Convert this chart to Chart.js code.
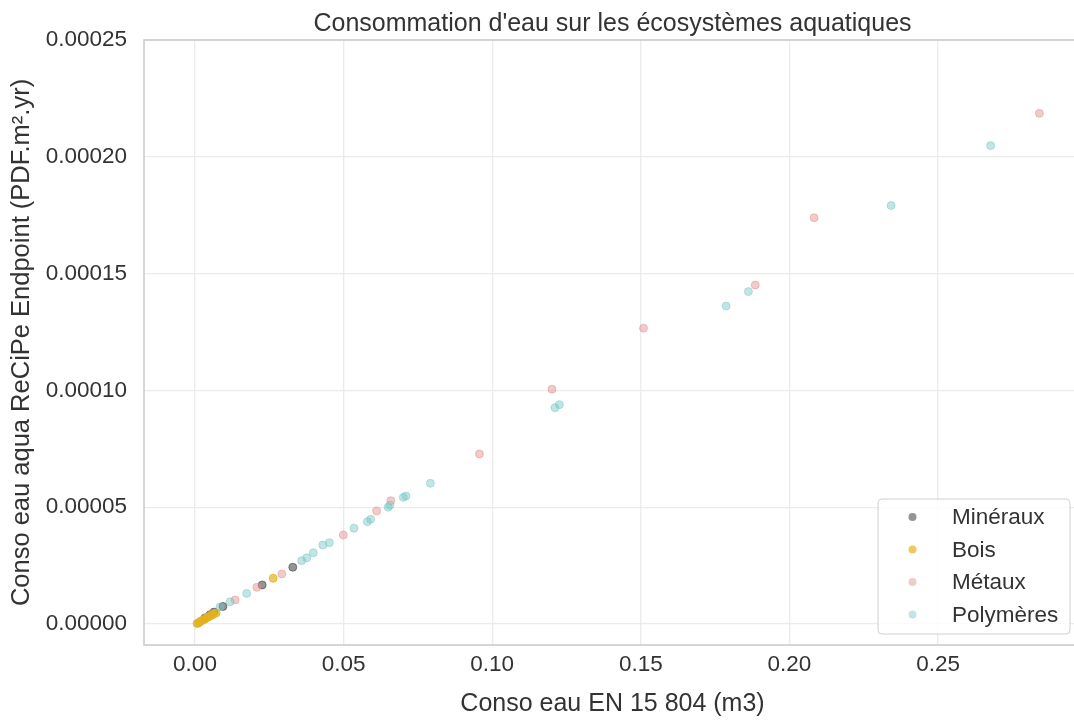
<!DOCTYPE html>
<html lang="fr">
<head>
<meta charset="utf-8">
<title>Consommation d'eau sur les écosystèmes aquatiques</title>
<script src="https://cdn.jsdelivr.net/npm/chart.js@4.4.1/dist/chart.umd.min.js"></script>
<style>
  html, body { margin: 0; padding: 0; background: #ffffff; overflow: hidden; }
  #idDiv_wrap { position: relative; width: 1086px; height: 720px; }
</style>
</head>
<body>
<div id="idDiv_wrap"><canvas id="idCanv_eau"></canvas></div>
<script>
// values (x: m3, y: PDF.m2.yr)
const seriesNames = ["Minéraux", "Bois", "Métaux", "Polymères"];

const mineraux_x = [0.0034, 0.005, 0.0064, 0.0094, 0.0226, 0.0329];
const mineraux_y = [0.0000026, 0.0000039, 0.0000051, 0.0000075, 0.0000167, 0.0000243];

const bois_x = [0.0007, 0.0013, 0.002, 0.0027, 0.0034, 0.004, 0.0047, 0.0054, 0.0061, 0.0071, 0.0263];
const bois_y = [0.0000002, 0.0000006, 0.0000013, 0.0000017, 0.0000021, 0.0000028, 0.0000032, 0.0000036, 0.0000041, 0.0000047, 0.0000196];

const metaux_x = [0.0017, 0.0057, 0.0135, 0.0208, 0.0292, 0.0499, 0.0611, 0.0659, 0.0957, 0.1201, 0.1509, 0.1885, 0.2083, 0.2841];
const metaux_y = [0.0000009, 0.0000043, 0.0000103, 0.0000157, 0.0000214, 0.0000381, 0.0000484, 0.0000528, 0.0000728, 0.0001005, 0.0001266, 0.0001451, 0.0001739, 0.0002186];

const polymeres_x = [0.001, 0.0044, 0.0084, 0.0118, 0.0174, 0.0359, 0.0376, 0.0398, 0.043, 0.0452, 0.0535, 0.058, 0.0591, 0.065, 0.0656, 0.0701, 0.071, 0.0792, 0.1211, 0.1226, 0.1787, 0.1862, 0.2342, 0.2677];
const polymeres_y = [0.0000003, 0.000003, 0.0000073, 0.0000095, 0.0000131, 0.0000271, 0.0000283, 0.0000305, 0.0000338, 0.0000348, 0.000041, 0.0000438, 0.0000448, 0.00005, 0.0000509, 0.0000542, 0.0000548, 0.0000602, 0.0000926, 0.0000939, 0.0001361, 0.0001423, 0.0001791, 0.0002048];

const xTicks = [0, 0.05, 0.1, 0.15, 0.2, 0.25];
const yTicks = [0, 0.00005, 0.0001, 0.00015, 0.0002, 0.00025];

const seriesColors = ["rgba(60, 60, 60, 0.55)", "rgba(228, 178, 30, 0.7)", "rgba(225, 140, 135, 0.45)", "rgba(115, 198, 196, 0.45)"];

const fontFamily = "'Liberation Sans', Arial, sans-serif";
const textColor = "#333333";

function toPoints(xs, ys) {
  return xs.map((x, i) => ({ x: x, y: ys[i] }));
}

const frameLines = {
  id: "frameLines",
  beforeDatasetsDraw(chart) {
    const { ctx, chartArea } = chart;
    ctx.save();
    ctx.strokeStyle = "#cccccc";
    ctx.lineWidth = 1.6;
    ctx.strokeRect(chartArea.left, chartArea.top, chartArea.right - chartArea.left, chartArea.bottom - chartArea.top);
    ctx.restore();
  },
};

// legend sits inside the axes, lower right, like the original
const boxLegend = {
  id: "boxLegend",
  afterDatasetsDraw(chart) {
    const { ctx, chartArea } = chart;
    const w = 192;
    const h = 135;
    const left = chartArea.right - 11 - w;
    const top = chartArea.bottom - 11 - h;
    ctx.save();
    ctx.beginPath();
    ctx.roundRect(left, top, w, h, 4);
    ctx.fillStyle = "rgba(255, 255, 255, 0.85)";
    ctx.fill();
    ctx.strokeStyle = "#d0d0d0";
    ctx.lineWidth = 1;
    ctx.stroke();
    ctx.font = "22.5px " + fontFamily;
    ctx.textBaseline = "middle";
    ctx.textAlign = "left";
    chart.data.datasets.forEach((ds, i) => {
      const cy = top + 18 + i * 32.5;
      ctx.beginPath();
      ctx.arc(left + 34.5, cy, 4, 0, Math.PI * 2);
      ctx.fillStyle = ds.backgroundColor;
      ctx.fill();
      ctx.fillStyle = textColor;
      ctx.fillText(ds.label, left + 74, cy + 1);
    });
    ctx.restore();
  },
};

const eauChart = {
  config: {
    type: "scatter",
    data: {
      datasets: [
        { label: seriesNames[0], data: toPoints(mineraux_x, mineraux_y), order: 3 },
        { label: seriesNames[1], data: toPoints(bois_x, bois_y), order: 0 },
        { label: seriesNames[2], data: toPoints(metaux_x, metaux_y), order: 2 },
        { label: seriesNames[3], data: toPoints(polymeres_x, polymeres_y), order: 1 },
      ],
    },
    options: {
      responsive: true,
      maintainAspectRatio: false,
      animation: false,
      events: [],
      layout: {
        padding: { left: 0, right: 5, top: 0, bottom: 0 },
      },
      elements: {
        point: {
          radius: 4,
          borderWidth: 1,
        },
      },
      plugins: {
        title: {
          display: true,
          text: "Consommation d'eau sur les écosystèmes aquatiques",
          color: textColor,
          fullSize: false,
          font: { family: fontFamily, size: 25, weight: "normal", lineHeight: 1 },
          padding: { top: 12, bottom: 3 },
        },
        legend: {
          display: false,
        },
        tooltip: {
          enabled: false,
        },
      },
      scales: {
        x: {
          type: "linear",
          min: -0.01716,
          max: 0.2981,
          afterFit: (scale) => {
            scale.height = 75;
          },
          afterBuildTicks: (scale) => {
            scale.ticks = xTicks.map((v) => ({ value: v }));
          },
          border: { display: false },
          grid: { color: "#ebebeb", lineWidth: 1.3, drawTicks: false },
          ticks: {
            color: textColor,
            padding: 6,
            font: { family: fontFamily, size: 22.5 },
            callback: (v) => Number(v).toFixed(2),
          },
          title: {
            display: true,
            text: "Conso eau EN 15 804 (m3)",
            color: textColor,
            font: { family: fontFamily, size: 25, lineHeight: 1 },
            padding: { top: 0, bottom: 3 },
          },
        },
        y: {
          type: "linear",
          min: -0.000009,
          max: 0.00025,
          afterFit: (scale) => {
            scale.width = 144;
          },
          afterBuildTicks: (scale) => {
            scale.ticks = yTicks.map((v) => ({ value: v }));
          },
          border: { display: false },
          grid: { color: "#ebebeb", lineWidth: 1.3, drawTicks: false },
          ticks: {
            color: textColor,
            padding: 17,
            font: { family: fontFamily, size: 22.5 },
            callback: (v) => Number(v).toFixed(5),
          },
          title: {
            display: true,
            text: "Conso eau aqua ReCiPe Endpoint (PDF.m².yr)",
            color: textColor,
            font: { family: fontFamily, size: 25.5, lineHeight: 1 },
            padding: { top: 9, bottom: 0 },
          },
        },
      },
    },
    plugins: [frameLines, boxLegend],
  },
  canvas: null,
};

eauChart.config.data.datasets.forEach((ds, i) => {
  ds.backgroundColor = seriesColors[i];
  ds.borderColor = seriesColors[i];
});

eauChart.canvas = new Chart(document.getElementById("idCanv_eau"), eauChart.config);
</script>
</body>
</html>
